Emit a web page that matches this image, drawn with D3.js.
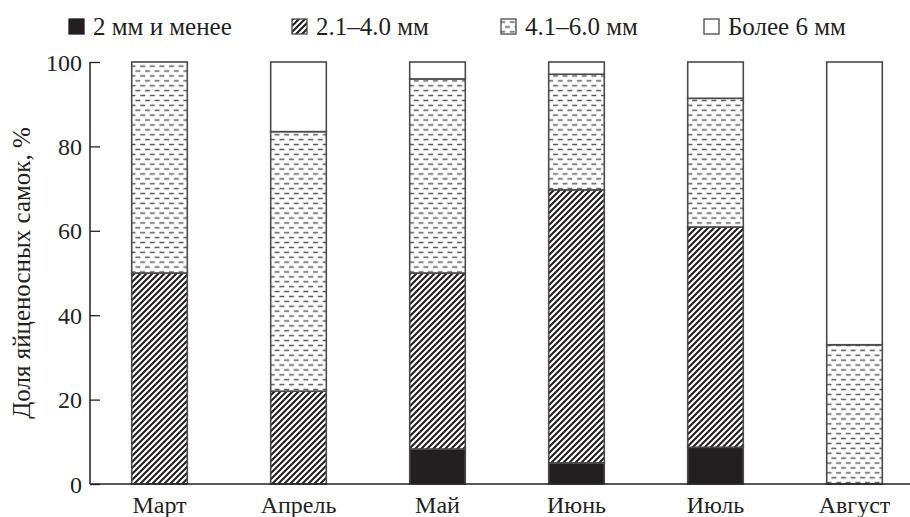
<!DOCTYPE html>
<html><head><meta charset="utf-8">
<script src="https://cdn.jsdelivr.net/npm/d3@7"></script>
<style>body{margin:0;background:#fff}svg{display:block}</style>
</head><body><div id="c"></div>
<script>
const months = ["Март","Апрель","Май","Июнь","Июль","Август"];
const seriesNames = ["2 мм и менее","2.1–4.0 мм","4.1–6.0 мм","Более 6 мм"];
const s1 = [0, 0, 8.3, 5.0, 8.7, 0];
const s2 = [50, 22, 41.7, 64.7, 52.2, 0];
const s3 = [50, 61.5, 46, 27.4, 30.5, 33];
const s4 = [0, 16.5, 4, 2.9, 8.6, 67];
const yTicks = [0,20,40,60,80,100];
const yTitle = "Доля яйценосных самок, %";

(function(){
  const FONT="'Liberation Serif', Tinos, 'Times New Roman', serif";
  const svgEl=d3.select("#c").append("svg").attr("width",910).attr("height",517);
  const defs=svgEl.append("defs");
  const hp=defs.append("pattern").attr("id","hatchP").attr("patternUnits","userSpaceOnUse")
   .attr("width",6).attr("height",6);
  hp.append("rect").attr("width",6).attr("height",6).attr("fill","#fff");
  hp.append("path").attr("d","M-1,1 l2,-2 M0,6 l6,-6 M5,7 l2,-2").attr("stroke","#231f20").attr("stroke-width",2.1);
  const dp=defs.append("pattern").attr("id","dashP").attr("patternUnits","userSpaceOnUse")
   .attr("width",9.6).attr("height",9.8);
  dp.append("rect").attr("width",9.6).attr("height",9.8).attr("fill","#fff");
  dp.append("path").attr("d","M1,2.5 h5 M5.8,7.4 h5 M-3.8,7.4 h5").attr("stroke","#555").attr("stroke-width",1.5);
  const fills=["#231f20","url(#hatchP)","url(#dashP)","#fff"];

  const xs=d3.scaleBand().domain(months).range([90,924]).paddingInner(0.6).paddingOuter(0.3);
  const ys=d3.scaleLinear().domain([0,100]).range([484,62]);

  const table=months.map((m,i)=>({m,a:s1[i],b:s2[i],c:s3[i],d:s4[i]}));
  const layers=d3.stack().keys(["a","b","c","d"])(table);

  const barsG=svgEl.append("g");
  layers.forEach((layer,k)=>{
    barsG.selectAll(null).data(layer).join("rect")
     .attr("x",d=>xs(d.data.m)).attr("width",xs.bandwidth())
     .attr("y",d=>ys(d[1])).attr("height",d=>ys(d[0])-ys(d[1]))
     .attr("fill",fills[k]).attr("stroke",d=>(d[1]-d[0])>0?"#4a4a4a":"none").attr("stroke-width",1.6);
  });

  const ya=svgEl.append("g").attr("transform","translate(90,0)")
   .call(d3.axisRight(ys).tickValues(yTicks).tickSize(10).tickFormat(d3.format("d")));
  ya.select(".domain").attr("stroke","#231f20").attr("stroke-width",1.5).attr("d","M0,"+ys(100)+"V"+ys(0));
  ya.selectAll(".tick line").attr("stroke","#231f20").attr("stroke-width",1.3);
  ya.selectAll(".tick text").attr("x",-8).attr("text-anchor","end").attr("dy","0.34em")
   .style("font-size","24px").style("font-family",FONT).attr("fill","#231f20");

  const xa=svgEl.append("g").attr("transform","translate(0,484)")
   .call(d3.axisBottom(xs).tickSize(0).tickPadding(0));
  xa.select(".domain").attr("stroke","#231f20").attr("stroke-width",1.5).attr("d","M90,0H910");
  xa.selectAll(".tick text").style("font-size","24px").style("font-family",FONT).attr("fill","#231f20")
   .attr("y",29).attr("dy",0);

  svgEl.append("text").attr("transform","translate(30,273) rotate(-90)").attr("text-anchor","middle")
   .style("font-size","25px").style("font-family",FONT).attr("fill","#231f20").text(yTitle);

  const legX=[68,291,500,703];
  const lg=svgEl.append("g");
  seriesNames.forEach((n,i)=>{
    lg.append("rect").attr("x",legX[i]+1).attr("y",19).attr("width",15).attr("height",15)
     .attr("fill",fills[i]).attr("stroke",i==0?"#231f20":"#4a4a4a").attr("stroke-width",1.3);
    lg.append("text").attr("x",legX[i]+25).attr("y",35).style("font-size","25px").style("font-family",FONT)
     .attr("fill","#231f20").text(n);
  });
})();
</script></body></html>
